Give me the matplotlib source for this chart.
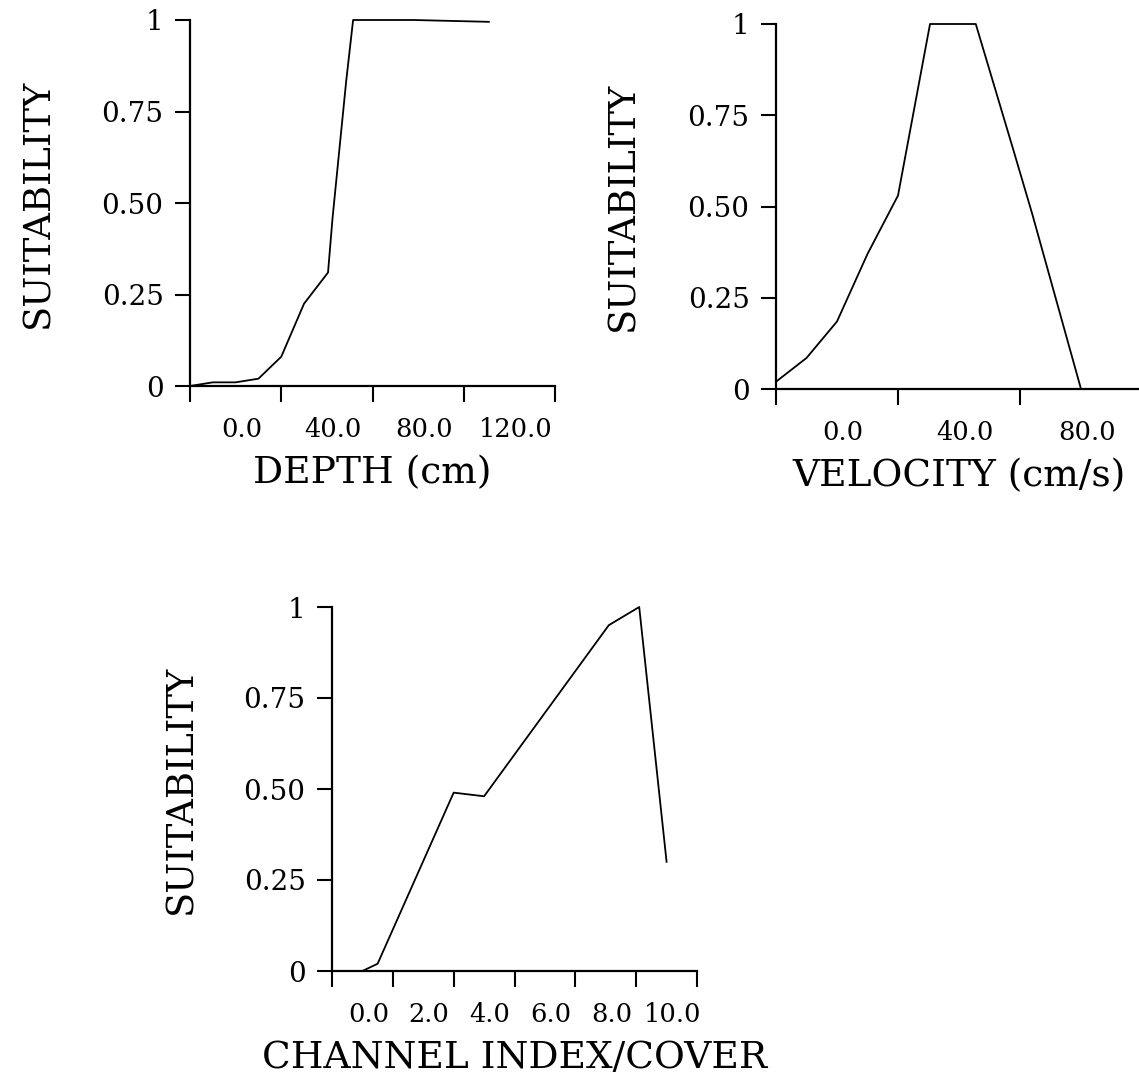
import matplotlib
matplotlib.use("Agg")
import matplotlib.pyplot as plt
import matplotlib.transforms as mtransforms

plt.rcParams["font.family"] = ["DejaVu Serif"]

# habitat suitability curves
depth_x = [-20, -10, 0, 10, 20, 30, 40.5, 42.5, 48.5, 51.5, 78, 111]
depth_y = [0, 0.01, 0.01, 0.02, 0.08, 0.225, 0.31, 0.46, 0.835, 1.0, 1.0, 0.995]

velocity_x = [-20, -10, 0, 10, 20, 30.5, 45.5, 58, 64, 80]
velocity_y = [0.02, 0.085, 0.185, 0.37, 0.53, 1.0, 1.0, 0.65, 0.48, 0.0]

channel_x = [-1, 0, 0.5, 3, 4, 8.1, 9.1, 10]
channel_y = [0, 0, 0.02, 0.49, 0.48, 0.95, 1.0, 0.30]

y_ticks = [0, 0.25, 0.5, 0.75, 1]
y_labels = ["0", "0.25", "0.50", "0.75", "1"]

depth_edges = [-20, 20, 60, 100, 140]
depth_labels = ["0.0", "40.0", "80.0", "120.0"]
velocity_edges = [-20, 20, 60, 100]
velocity_labels = ["0.0", "40.0", "80.0"]
channel_edges = [-1, 1, 3, 5, 7, 9, 11]
channel_labels = ["0.0", "2.0", "4.0", "6.0", "8.0", "10.0"]

W, H = 1139, 1082
fig = plt.figure(figsize=(W / 100, H / 100), dpi=100)


def px_axes(x0, y_top, x1, y_bot):
    return fig.add_axes([x0 / W, 1 - y_bot / H, (x1 - x0) / W, (y_bot - y_top) / H])


def style(ax, x, y, edges, labels, xlabel, label_x):
    ax.plot(x, y, color="black", lw=1.3, clip_on=False)
    ax.set_xlim(edges[0], edges[-1])
    ax.set_ylim(0, 1)
    for s in ["top", "right"]:
        ax.spines[s].set_visible(False)
    for s in ["left", "bottom"]:
        ax.spines[s].set_linewidth(1.6)
    ax.set_yticks(y_ticks)
    ax.set_yticklabels(y_labels, fontsize=20)
    ax.tick_params(axis="y", direction="out", length=11, width=1.5, pad=8)
    ax.set_xticks(edges)
    ax.set_xticklabels([])
    ax.tick_params(axis="x", which="major", direction="out", length=11.5, width=1.5)
    # labels sit between the ticks, as in the original plot
    mids = [(a + b) / 2 for a, b in zip(edges[:-1], edges[1:])]
    ax.set_xticks(mids[:len(labels)], minor=True)
    ax.set_xticklabels(labels, minor=True, fontsize=18.5)
    ax.tick_params(axis="x", which="minor", length=0, pad=22)
    off = mtransforms.ScaledTranslation(6 / 100, 0, fig.dpi_scale_trans)
    for t in ax.xaxis.get_minor_ticks():
        t.label1.set_transform(t.label1.get_transform() + off)
    ax.set_xlabel(xlabel, fontsize=27, labelpad=10)
    ax.set_ylabel("SUITABILITY", fontsize=26.5)
    ax.yaxis.set_label_coords(label_x, 0.5)


ax1 = px_axes(190, 20, 555, 386)
style(ax1, depth_x, depth_y, depth_edges, depth_labels, "DEPTH (cm)", -0.367)

ax2 = px_axes(776, 24, 1142, 389)
style(ax2, velocity_x, velocity_y, velocity_edges, velocity_labels,
      "VELOCITY (cm/s)", -0.369)

ax3 = px_axes(332, 607, 697, 971)
style(ax3, channel_x, channel_y, channel_edges, channel_labels,
      "CHANNEL INDEX/COVER", -0.362)

fig.savefig("out.png", dpi=100)
